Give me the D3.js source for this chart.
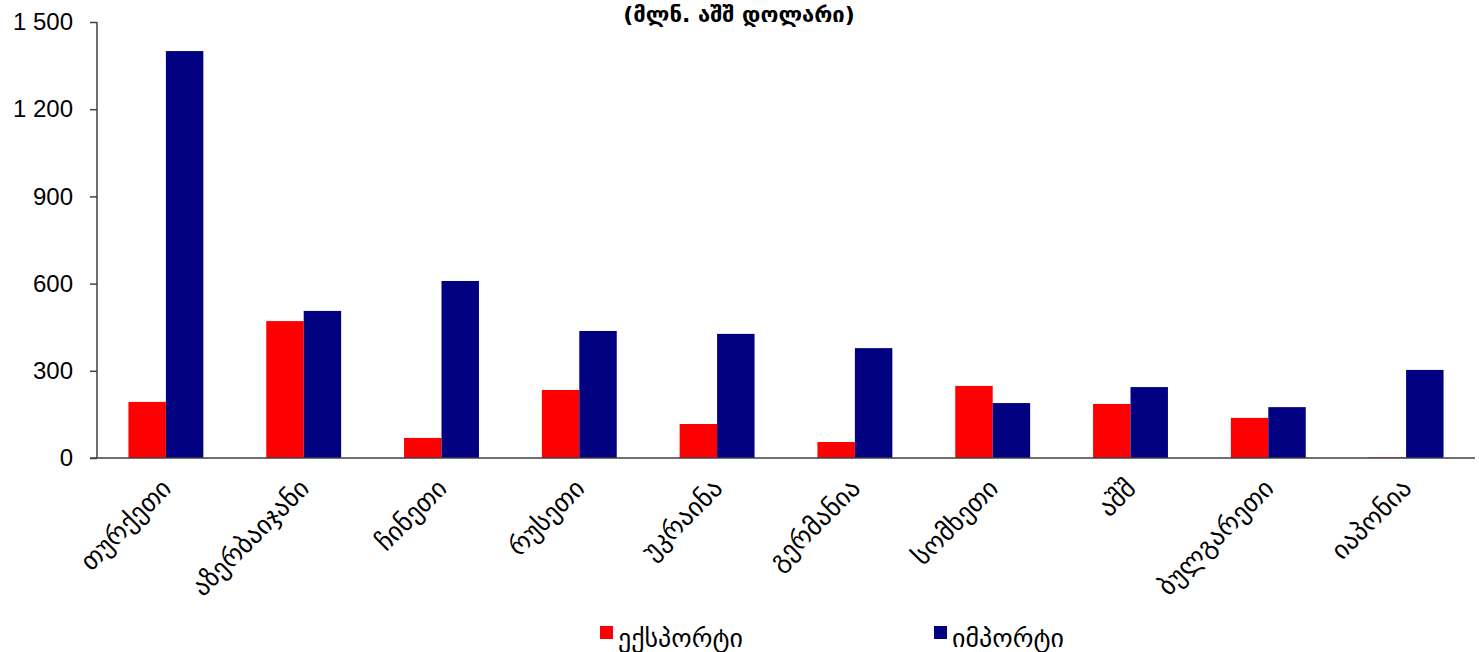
<!DOCTYPE html>
<html lang="ka">
<head>
<meta charset="UTF-8">
<title>ექსპორტი და იმპორტი</title>
<script src="https://d3js.org/d3.v7.min.js"></script>
<style>
    body { margin: 0; background: #fff; }
    .axis path, .axis line { stroke: #404040; stroke-width: 1.5px; }
    .ytick text { font-family: Arial, "Liberation Sans", sans-serif; font-size: 24px; fill: #000; }
    .cat { font-family: "DejaVu Sans", sans-serif; font-size: 26px; fill: #000; }
    .legend text { font-family: "DejaVu Sans", sans-serif; font-size: 26px; fill: #000; }
    .title { font-family: "DejaVu Sans", sans-serif; font-size: 22px; font-weight: bold; fill: #000; }
</style>
</head>
<body>
<div id="container"></div>
<script>
    // data
    const countries = ["თურქეთი", "აზერბაიჯანი", "ჩინეთი", "რუსეთი", "უკრაინა",
                       "გერმანია", "სომხეთი", "აშშ", "ბულგარეთი", "იაპონია"];
    const exportVals = [193, 471, 69, 234, 117, 55, 248, 186, 138, 2];
    const importVals = [1400, 506, 609, 437, 427, 378, 189, 244, 175, 303];
    const yTicks = [0, 300, 600, 900, 1200, 1500];
    const seriesNames = ["ექსპორტი", "იმპორტი"];
    const seriesColors = ["#ff0000", "#000080"];
    const title = "(მლნ. აშშ დოლარი)";

    const width = 1479, height = 652;
    const plotL = 97, plotR = 1475, plotT = 22, plotB = 458;

    const svg = d3.select("#container").append("svg")
        .attr("width", width)
        .attr("height", height);

    // scales
    const x0 = d3.scaleBand().domain(countries).range([plotL, plotR]).padding(0);
    const x1 = d3.scaleBand().domain([0, 1]).range([0, x0.bandwidth()])
        .paddingInner(0).paddingOuter(0.84);
    const y = d3.scaleLinear().domain([0, 1500]).range([plotB, plotT]);

    const fmt = d => d3.format(",")(d).replace(/,/g, " ");

    // bars
    const groups = svg.selectAll("g.grp")
        .data(countries.map((c, i) => ({ c: c, vals: [exportVals[i], importVals[i]] })))
        .enter().append("g")
        .attr("class", "grp")
        .attr("transform", d => "translate(" + x0(d.c) + ",0)");

    groups.selectAll("rect")
        .data(d => d.vals.map((v, k) => ({ k: k, v: v })))
        .enter().append("rect")
        .attr("x", d => x1(d.k))
        .attr("width", x1.bandwidth())
        .attr("y", d => y(d.v))
        .attr("height", d => plotB - y(d.v))
        .attr("fill", d => seriesColors[d.k]);

    // y axis
    const yAxis = svg.append("g")
        .attr("class", "axis ytick")
        .attr("transform", "translate(" + plotL + ",0)")
        .call(d3.axisLeft(y).tickValues(yTicks).tickFormat(fmt).tickSize(7).tickPadding(17).tickSizeOuter(0));
    yAxis.select(".domain").attr("d", "M0," + plotT + "V" + plotB);

    // x axis line
    svg.append("g").attr("class", "axis")
        .append("line")
        .attr("x1", plotL - 7).attr("x2", plotR)
        .attr("y1", plotB).attr("y2", plotB);

    // category labels
    svg.selectAll("text.cat")
        .data(countries)
        .enter().append("text")
        .attr("class", "cat")
        .attr("text-anchor", "end")
        .attr("transform", d => "translate(" + (x0(d) + x0.bandwidth() / 2 + 7) + "," + (plotB + 32) + ") rotate(-45)")
        .text(d => d);

    // title
    svg.append("text")
        .attr("class", "title")
        .attr("x", 739)
        .attr("y", 22)
        .attr("text-anchor", "middle")
        .text(title);

    // legend
    const legendX = [600, 934];
    const legend = svg.selectAll("g.legend")
        .data(seriesNames)
        .enter().append("g")
        .attr("class", "legend")
        .attr("transform", (d, i) => "translate(" + legendX[i] + ",626)");
    legend.append("rect")
        .attr("width", 13).attr("height", 13)
        .attr("fill", (d, i) => seriesColors[i]);
    legend.append("text")
        .attr("x", 18).attr("y", 21)
        .text(d => d);
</script>
</body>
</html>
